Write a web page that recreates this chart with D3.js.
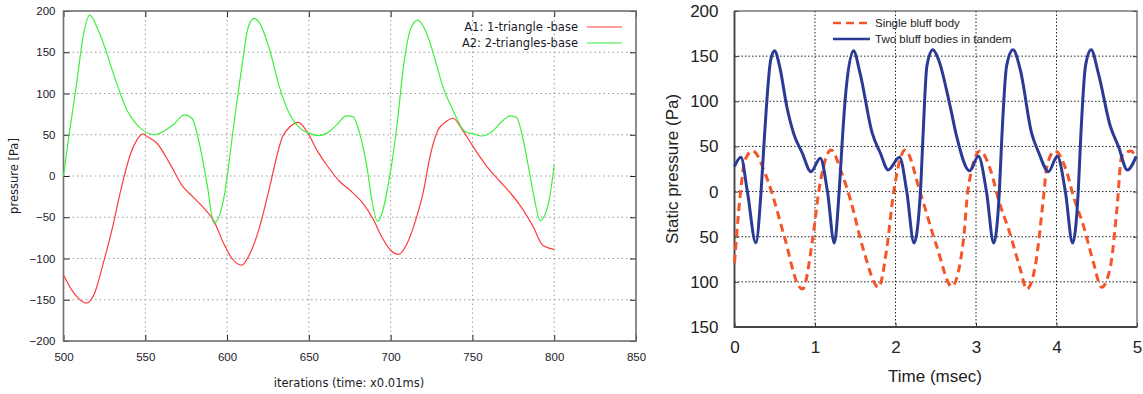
<!DOCTYPE html>
<html>
<head>
<meta charset="utf-8">
<script src="https://cdn.jsdelivr.net/npm/d3@7"></script>
<style>
  html, body { margin: 0; padding: 0; background: #fff; }
  svg { display: block; }
</style>
</head>
<body>
<svg id="chart" width="1143" height="394"></svg>
<script>
// ---- left panel (gnuplot style) ----
const leftXTicks = [500, 550, 600, 650, 700, 750, 800, 850];
const leftYTicks = [-200, -150, -100, -50, 0, 50, 100, 150, 200];

const a1Iter = [500, 505, 509, 514, 519, 524, 530, 534, 537, 541, 545, 548.5, 551, 557, 565, 573, 579, 584, 592, 598, 603, 609, 614, 620, 625, 634, 638.6, 643.6, 648.8, 655, 661, 669, 675, 683, 689.5, 694.6, 700, 705, 710, 716, 720, 724, 729, 734, 738, 744.5, 750.6, 759, 767, 773, 781, 787, 793, 800];
const a1Pressure = [-120, -138, -148, -154, -142, -108, -62, -26, -1, 27, 44, 51, 48, 40, 15, -13, -25, -35, -55, -82, -100, -108, -94, -61, -22, 48, 60, 65, 54, 31, 13, -7, -17, -33, -53, -74, -90, -95, -82, -49, -19, 23, 56, 66, 70, 54, 35, 11, -7, -20, -41, -61, -84, -89];

const a2Iter = [500, 503, 508, 512, 516, 522, 532.6, 538.7, 545, 549, 556, 561, 567, 574, 578.5, 583, 587.7, 592, 597.8, 604, 609, 613, 616.6, 620, 626, 632, 638, 644.5, 650, 656, 661, 667, 673, 677, 681, 685.5, 688.5, 692, 699.7, 703.8, 707.8, 712, 716.4, 722, 726, 732, 738, 745.5, 750.6, 755.7, 762, 769, 773, 777, 781, 785, 788, 791.4, 796.5, 800];
const a2Pressure = [0, 44, 112, 169, 195, 173, 112, 80, 62, 55, 50, 54, 62, 74, 70, 40, -9, -57, -29, 60, 132, 181, 191, 185, 153, 108, 76, 58, 52, 49, 52, 62, 73, 72, 52, 11, -29, -55, 3, 60, 132, 177, 189, 173, 149, 108, 80, 54, 51, 48.5, 54, 68, 73, 71, 44, 3, -29, -54, -33, 13];

// ---- right panel (scanned matlab style) ----
const rightXTicks = [0, 1, 2, 3, 4, 5];
const rightYTicks = [-150, -100, -50, 0, 50, 100, 150, 200];

const singleTime = [0, 0.07, 0.13, 0.224, 0.41, 0.62, 0.8, 0.845, 0.97, 1.05, 1.2, 1.33, 1.44, 1.6, 1.79, 1.89, 1.975, 2.12, 2.31, 2.51, 2.7, 2.845, 2.9, 3.05, 3.18, 3.28, 3.42, 3.55, 3.63, 3.735, 3.84, 3.88, 3.98, 4.13, 4.21, 4.335, 4.46, 4.56, 4.67, 4.75, 4.81, 4.925, 4.99];
const singlePressure = [-79, -5, 35, 45, 13, -50, -105, -108, -53, 2, 46, 21, -9, -64, -106, -64, -2, 46, -2, -60, -105, -53, 2, 45, 24, -9, -46, -86, -108, -83, -5, 28, 45, 21, -5, -38, -79, -106, -83, -20, 39, 45, 37];

const tandemTime = [0, 0.08, 0.16, 0.266, 0.33, 0.37, 0.45, 0.497, 0.56, 0.65, 0.74, 0.84, 0.95, 1.065, 1.155, 1.24, 1.3, 1.34, 1.375, 1.478, 1.56, 1.71, 1.81, 1.91, 2.05, 2.14, 2.23, 2.31, 2.34, 2.39, 2.465, 2.535, 2.68, 2.76, 2.92, 3.03, 3.13, 3.22, 3.29, 3.32, 3.38, 3.46, 3.55, 3.69, 3.78, 3.9, 4.01, 4.11, 4.2, 4.27, 4.3, 4.36, 4.43, 4.52, 4.67, 4.77, 4.88, 4.99];
const tandemPressure = [28, 38, 0, -57, 0, 58, 146, 156, 139, 94, 63, 43, 22, 37, 0, -57, 0, 58, 102, 156, 131, 65, 43, 24, 38, 0, -57, 0, 58, 139, 157, 146, 94, 61, 23, 39, 0, -57, 0, 58, 139, 157, 135, 65, 43, 22, 39, 0, -57, 0, 58, 139, 157, 131, 72, 50, 24, 39];

const svg = d3.select('#chart');

// ================= LEFT PANEL =================
const xL = d3.scaleLinear().domain([500, 850]).range([63.5, 636]);
const yL = d3.scaleLinear().domain([-200, 200]).range([341, 11]);
const gL = svg.append('g').attr('font-family', 'DejaVu Sans, Verdana, sans-serif');

// grid
gL.append('g')
	.selectAll('line')
	.data(leftXTicks.slice(1, -1))
	.enter().append('line')
	.attr('x1', d => xL(d)).attr('x2', d => xL(d))
	.attr('y1', yL(200)).attr('y2', yL(-200))
	.attr('stroke', '#9a9a9a').attr('stroke-width', 1).attr('stroke-dasharray', '1.5,3');
gL.append('g')
	.selectAll('line')
	.data(leftYTicks.slice(1, -1))
	.enter().append('line')
	.attr('x1', xL(500)).attr('x2', xL(850))
	.attr('y1', d => yL(d)).attr('y2', d => yL(d))
	.attr('stroke', '#9a9a9a').attr('stroke-width', 1).attr('stroke-dasharray', '1.5,3');

// axes: ticks inward on all sides
const leftBottom = gL.append('g')
	.attr('transform', `translate(0,${yL(-200)})`)
	.call(d3.axisBottom(xL).tickValues(leftXTicks).tickSize(-6).tickPadding(12).tickFormat(d3.format('d')));
const leftTop = gL.append('g')
	.attr('transform', `translate(0,${yL(200)})`)
	.call(d3.axisTop(xL).tickValues(leftXTicks).tickSize(-6).tickFormat(''));
const leftLeft = gL.append('g')
	.attr('transform', `translate(${xL(500)},0)`)
	.call(d3.axisLeft(yL).tickValues(leftYTicks).tickSize(-6).tickPadding(8).tickFormat(d3.format('d')));
const leftRight = gL.append('g')
	.attr('transform', `translate(${xL(850)},0)`)
	.call(d3.axisRight(yL).tickValues(leftYTicks).tickSize(-6).tickFormat(''));
[leftBottom, leftTop, leftLeft, leftRight].forEach(a => {
	a.select('.domain').remove();
	a.selectAll('.tick line').attr('stroke', '#222').attr('stroke-width', 1);
	a.selectAll('text').attr('font-size', 11.5).attr('fill', '#1a1a2a');
});

// frame
gL.append('rect')
	.attr('x', xL(500)).attr('y', yL(200))
	.attr('width', xL(850) - xL(500)).attr('height', yL(-200) - yL(200))
	.attr('fill', 'none').attr('stroke', '#6e6e6e').attr('stroke-width', 1.6);

// series
const lineL = d3.line().curve(d3.curveMonotoneX).x(d => xL(d[0])).y(d => yL(d[1]));
gL.append('path')
	.datum(d3.zip(a1Iter, a1Pressure))
	.attr('d', lineL)
	.attr('fill', 'none').attr('stroke', '#ff3a3a').attr('stroke-width', 1.2);
gL.append('path')
	.datum(d3.zip(a2Iter, a2Pressure))
	.attr('d', lineL)
	.attr('fill', 'none').attr('stroke', '#3ef03e').attr('stroke-width', 1.2);

// labels
gL.append('text')
	.attr('transform', `translate(18,${yL(0)}) rotate(-90)`)
	.attr('text-anchor', 'middle')
	.attr('font-size', 11.5).attr('fill', '#1a1a2a')
	.text('pressure [Pa]');
gL.append('text')
	.attr('x', 349).attr('y', 387)
	.attr('text-anchor', 'middle')
	.attr('font-size', 11.5).attr('fill', '#1a1a2a')
	.text('iterations (time: x0.01ms)');

// legend
const legendL = [
	{ label: 'A1: 1-triangle -base', color: '#ff3a3a' },
	{ label: 'A2: 2-triangles-base', color: '#3ef03e' }
];
const legL = gL.append('g').selectAll('g').data(legendL).enter().append('g')
	.attr('transform', (d, i) => `translate(0,${27 + i * 16})`);
legL.append('text')
	.attr('x', 578).attr('dy', '0.35em')
	.attr('text-anchor', 'end')
	.attr('font-size', 11.5).attr('fill', '#1a1a2a')
	.text(d => d.label);
legL.append('line')
	.attr('x1', 587).attr('x2', 622)
	.attr('stroke', d => d.color).attr('stroke-width', 1.2);

// ================= RIGHT PANEL =================
const xR = d3.scaleLinear().domain([0, 5]).range([734.5, 1137]);
const yR = d3.scaleLinear().domain([-150, 200]).range([327, 11]);
const gR = svg.append('g').attr('font-family', 'Liberation Sans, Arial, sans-serif');

gR.append('g')
	.selectAll('line')
	.data(rightXTicks.slice(1, -1))
	.enter().append('line')
	.attr('x1', d => xR(d)).attr('x2', d => xR(d))
	.attr('y1', yR(200)).attr('y2', yR(-150))
	.attr('stroke', '#222').attr('stroke-width', 1).attr('stroke-dasharray', '1.5,2');
gR.append('g')
	.selectAll('line')
	.data(rightYTicks.slice(1, -1))
	.enter().append('line')
	.attr('x1', xR(0)).attr('x2', xR(5))
	.attr('y1', d => yR(d)).attr('y2', d => yR(d))
	.attr('stroke', '#222').attr('stroke-width', 1).attr('stroke-dasharray', '1.5,2');

const rightBottom = gR.append('g')
	.attr('transform', `translate(0,${yR(-150)})`)
	.call(d3.axisBottom(xR).tickValues(rightXTicks).tickSize(-4).tickPadding(14).tickFormat(d3.format('d')));
const rightLeft = gR.append('g')
	.attr('transform', `translate(${xR(0)},0)`)
	.call(d3.axisLeft(yR).tickValues(rightYTicks).tickSize(-4).tickPadding(16).tickFormat(d => Math.abs(d)));
const rightRight = gR.append('g')
	.attr('transform', `translate(${xR(5)},0)`)
	.call(d3.axisRight(yR).tickValues(rightYTicks).tickSize(-4).tickFormat(''));
[rightBottom, rightLeft, rightRight].forEach(a => {
	a.select('.domain').remove();
	a.selectAll('.tick line').attr('stroke', '#333').attr('stroke-width', 1);
	a.selectAll('text').attr('font-size', 17).attr('fill', '#222');
});

gR.append('rect')
	.attr('x', xR(0)).attr('y', yR(200))
	.attr('width', xR(5) - xR(0)).attr('height', yR(-150) - yR(200))
	.attr('fill', 'none').attr('stroke', '#555').attr('stroke-width', 1.2);
gR.append('path')
	.attr('d', `M${xR(0)},${yR(200)}V${yR(-150)}H${xR(5)}`)
	.attr('fill', 'none').attr('stroke', '#444').attr('stroke-width', 1.8);

const lineR = d3.line().curve(d3.curveMonotoneX).x(d => xR(d[0])).y(d => yR(d[1]));
gR.append('path')
	.datum(d3.zip(singleTime, singlePressure))
	.attr('d', lineR)
	.attr('fill', 'none').attr('stroke', '#f4552a').attr('stroke-width', 3)
	.attr('stroke-dasharray', '8,5');
gR.append('path')
	.datum(d3.zip(tandemTime, tandemPressure))
	.attr('d', lineR)
	.attr('fill', 'none').attr('stroke', '#2b3a94').attr('stroke-width', 3)
	.attr('stroke-linejoin', 'round');

gR.append('text')
	.attr('transform', `translate(678,${yR(25)}) rotate(-90)`)
	.attr('text-anchor', 'middle')
	.attr('font-size', 17).attr('fill', '#222')
	.text('Static pressure (Pa)');
gR.append('text')
	.attr('x', 935).attr('y', 382)
	.attr('text-anchor', 'middle')
	.attr('font-size', 17).attr('fill', '#222')
	.text('Time (msec)');

const legendR = [
	{ label: 'Single bluff body', color: '#f4552a', dash: '8,5' },
	{ label: 'Two bluff bodies in tandem', color: '#2b3a94', dash: null }
];
const legR = gR.append('g').selectAll('g').data(legendR).enter().append('g')
	.attr('transform', (d, i) => `translate(0,${23 + i * 16})`);
legR.append('line')
	.attr('x1', 833).attr('x2', 870)
	.attr('stroke', d => d.color).attr('stroke-width', 2.5)
	.attr('stroke-dasharray', d => d.dash);
legR.append('text')
	.attr('x', 875).attr('dy', '0.35em')
	.attr('font-size', 11.5).attr('fill', '#222')
	.text(d => d.label);
</script>
</body>
</html>
